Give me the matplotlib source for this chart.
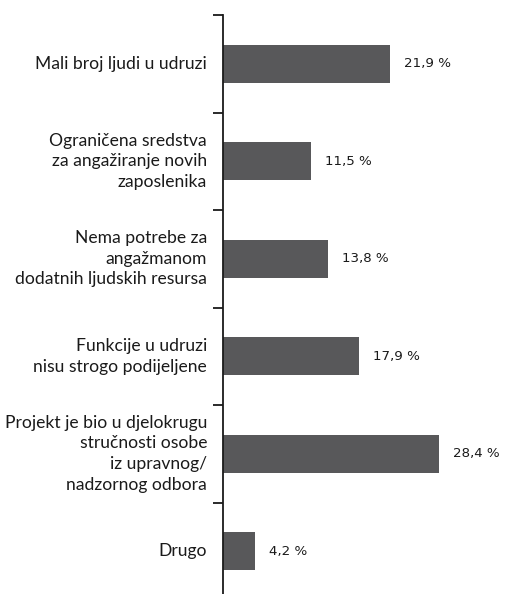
import matplotlib
matplotlib.use("Agg")
import matplotlib.pyplot as plt

categories = [
    "Mali broj ljudi u udruzi",
    "Ograničena sredstva\nza angažiranje novih\nzaposlenika",
    "Nema potrebe za\nangažmanom\ndodatnih ljudskih resursa",
    "Funkcije u udruzi\nnisu strogo podijeljene",
    "Projekt je bio u djelokrugu\nstručnosti osobe\niz upravnog/\nnadzornog odbora",
    "Drugo",
]
values = [21.9, 11.5, 13.8, 17.9, 28.4, 4.2]
value_labels = ["21,9 %", "11,5 %", "13,8 %", "17,9 %", "28,4 %", "4,2 %"]

W, H = 505, 594
fig = plt.figure(figsize=(W / 100, H / 100), dpi=100)
ax_left = 223 / W
ax_top = 1 - 15 / H
ax_bottom = -6 / H
ax = fig.add_axes([ax_left, ax_bottom, 1 - ax_left, ax_top - ax_bottom])

pos = list(range(len(categories)))
ax.barh(pos, values, height=0.39, color="#58585a", zorder=2)
ax.set_ylim(len(categories) - 0.5, -0.5)
ax.set_xlim(0, (W - 223) / 7.62)

for s in ["top", "right", "bottom"]:
    ax.spines[s].set_visible(False)
ax.spines["left"].set_linewidth(1.3)
ax.spines["left"].set_color("#1a1a1a")
ax.set_xticks([])
ax.set_yticks([p - 0.5 for p in pos] + [len(pos) - 0.5])
ax.set_yticklabels([])
ax.tick_params(axis="y", length=7.5, width=1.3, color="#1a1a1a")

for p, cat in zip(pos, categories):
    ax.annotate(cat, xy=(0, p), xycoords=("axes fraction", "data"),
                xytext=(-16, 0), textcoords="offset pixels",
                ha="right", va="center", fontsize=12.6, family="Lato",
                color="#1a1a1a", linespacing=1.35, multialignment="right")

for p, v, lab in zip(pos, values, value_labels):
    ax.annotate(lab, xy=(v, p), xytext=(14, 0), textcoords="offset pixels",
                ha="left", va="center", fontsize=9.6, family="DejaVu Sans",
                color="#1a1a1a")

fig.savefig("out.png", dpi=100)
